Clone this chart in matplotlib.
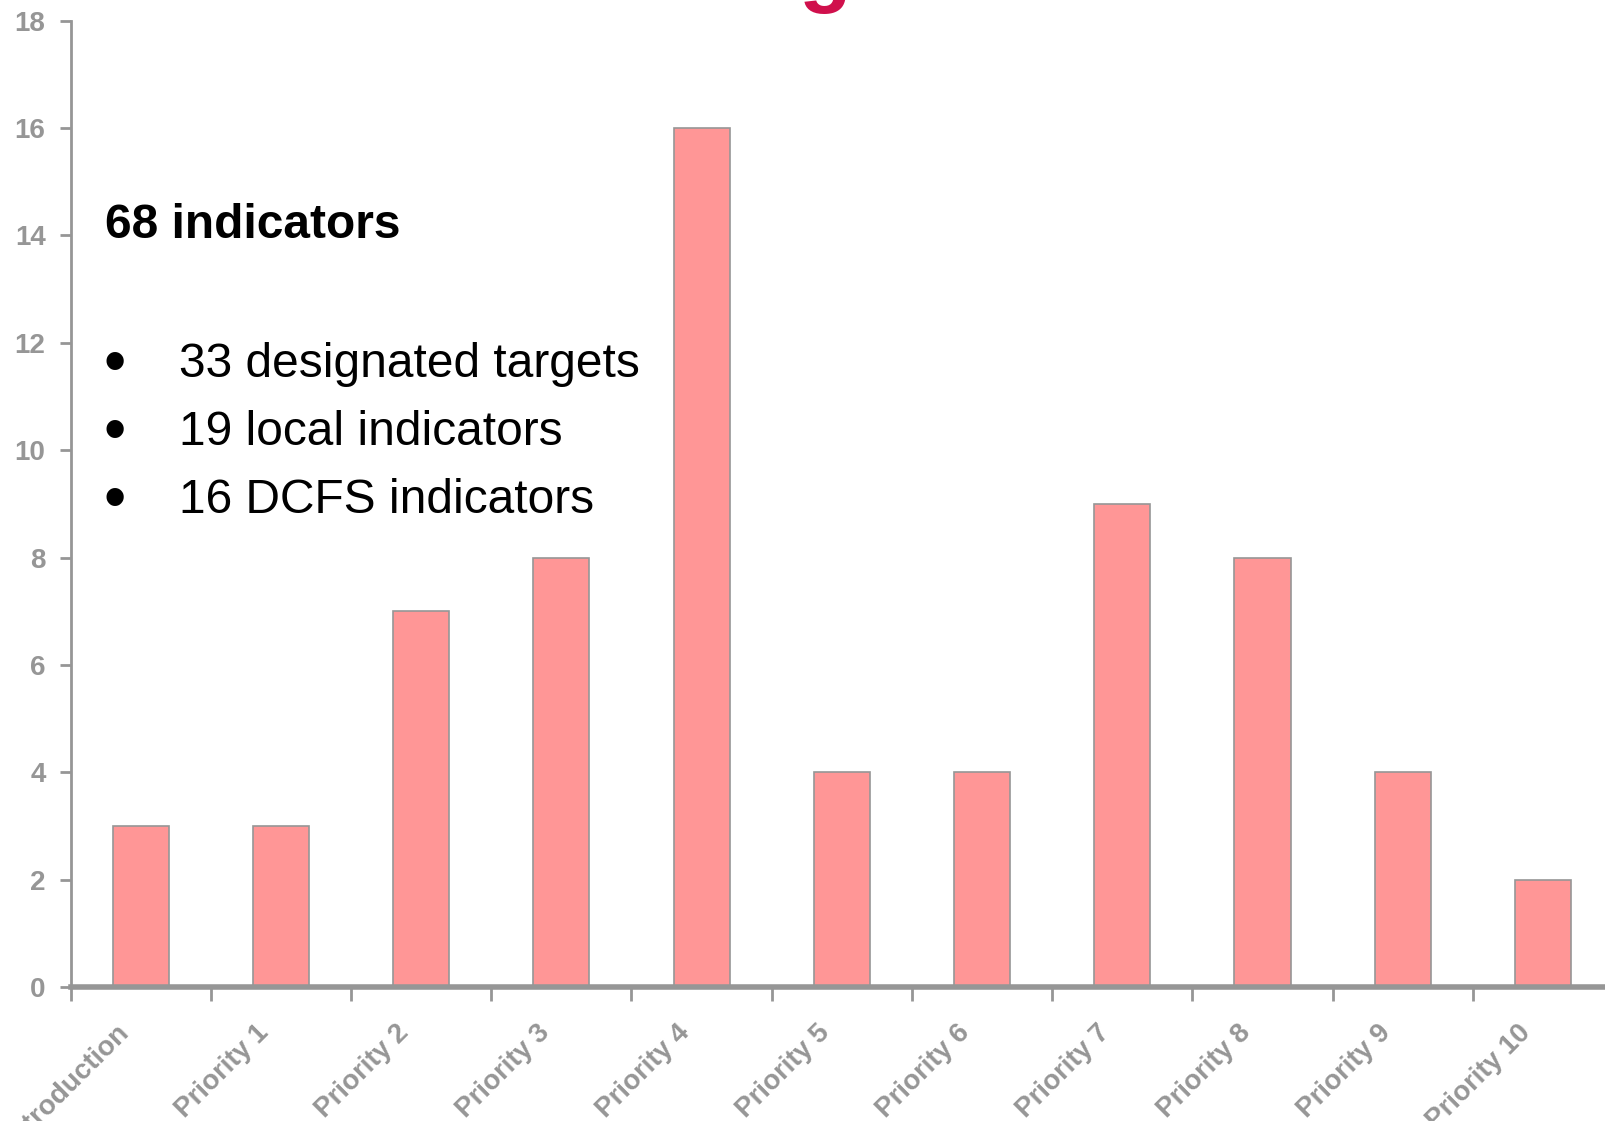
import matplotlib
matplotlib.use("Agg")
import matplotlib.pyplot as plt
import numpy as np

plt.rcParams['font.family'] = ['Liberation Sans', 'DejaVu Sans']

# data
categories = ["Introduction", "Priority 1", "Priority 2", "Priority 3", "Priority 4",
              "Priority 5", "Priority 6", "Priority 7", "Priority 8", "Priority 9",
              "Priority 10"]
counts = [3, 3, 7, 8, 16, 4, 4, 9, 8, 4, 2]
yticks = [0, 2, 4, 6, 8, 10, 12, 14, 16, 18]

headline = "68 indicators"
bullets = ["33 designated targets", "19 local indicators", "16 DCFS indicators"]

grey = "#969696"
bar_col = "#ff9696"

fig = plt.figure(figsize=(16.05, 11.21), dpi=100)
# axes runs off the right edge, as in the reference crop
ax = fig.add_axes([0.044, 0.1195, 0.961, 0.862])

x = np.arange(len(categories))
ax.bar(x, counts, width=0.4, color=bar_col, edgecolor=grey, linewidth=1.2, zorder=2)

ax.set_xlim(-0.5, len(categories) - 0.5)
ax.set_ylim(0, 18)
ax.set_yticks(yticks)

# labels at category centres, tick marks on category boundaries
ax.set_xticks(x)
ax.set_xticklabels(categories, rotation=45, ha="right", va="center",
                   rotation_mode="anchor", fontsize=20, fontweight="bold", color=grey)
ax.tick_params(axis="x", which="major", length=0, pad=30)
ax.set_xticks(np.arange(-0.5, len(categories)), minor=True)
ax.tick_params(axis="x", which="minor", length=10, width=2, color=grey)
offset = matplotlib.transforms.ScaledTranslation(-16 / 100, 0, fig.dpi_scale_trans)
for t in ax.get_xticklabels():
    t.set_transform(t.get_transform() + offset)

ax.tick_params(axis="y", length=8, width=2, color=grey, pad=10)
for t in ax.get_yticklabels():
    t.set_fontsize(20)
    t.set_fontweight("bold")
    t.set_color(grey)

for s in ["top", "right"]:
    ax.spines[s].set_visible(False)
ax.spines["left"].set_color(grey)
ax.spines["left"].set_linewidth(2)
ax.spines["bottom"].set_color(grey)
ax.spines["bottom"].set_linewidth(4)

# summary text
fig.text(105 / 1605, 1 - 238 / 1121, headline, fontsize=34.5, fontweight="bold",
         color="black", va="baseline")
for i, b in enumerate(bullets):
    yb = 1 - (377 + 68 * i) / 1121
    fig.text(104 / 1605, yb - 6 / 1121, "\u2022", fontsize=46, color="black", va="baseline")
    fig.text(179 / 1605, yb, b, fontsize=34.5, color="black", va="baseline")

# clipped title at the very top: only the descender of the g shows
fig.text(825 / 1605, 1 + 4 / 1121, "g", fontsize=62, fontweight="bold",
         color="#d0104c", ha="center", va="baseline")

fig.savefig("out.png", dpi=100)
